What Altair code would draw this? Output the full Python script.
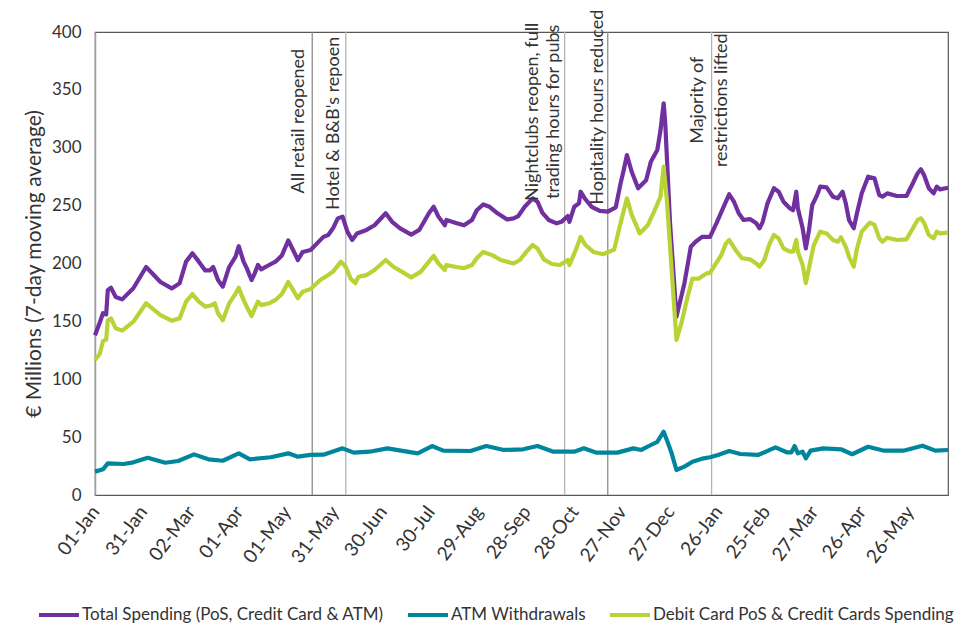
import altair as alt
import pandas as pd

# Daily 7-day moving averages, € millions; days counted from 1 Jan 2021
total_days = [0, 3, 5, 7, 8, 10, 13, 17, 24, 32, 41, 48, 53, 57, 61, 65, 69, 72, 74, 77, 80, 84, 88, 90,
              93, 95, 98, 100, 102, 104, 109, 113, 117, 121, 124, 127, 130, 135, 139, 143, 146, 149, 152,
              155, 158, 161, 164, 170, 175, 182, 186, 191, 198, 203, 209, 212, 215, 219, 220, 226, 231,
              236, 239, 243, 247, 252, 258, 262, 265, 269, 274, 277, 280, 284, 289, 292, 296, 297, 300,
              303, 304, 307, 311, 316, 321, 326, 329, 331, 333, 336, 340, 345, 348, 352, 354, 356, 357,
              360, 364, 369, 373, 376, 380, 385, 389, 394, 397, 400, 403, 406, 410, 414, 416, 418, 421,
              425, 428, 431, 435, 437, 439, 440, 443, 445, 447, 449, 452, 454, 458, 462, 465, 468, 470,
              472, 475, 477, 480, 484, 488, 491, 493, 496, 502, 508, 512, 515, 517, 519, 522, 525, 527,
              529, 534]
total_vals = [138, 149, 157, 156, 177, 179, 171, 169, 178.6, 197, 184, 178.5, 183, 201.6, 208.8, 201.6,
              194, 194, 197, 185.7, 180, 197, 206, 215, 201.6, 196, 185.7, 191.5, 198.7, 195, 198.7,
              201.6, 207, 220, 211.7, 203, 210, 211.7, 217.4, 223, 224.6, 230.4, 239, 240.5, 227.5,
              220.3, 226, 229, 233, 243.4, 236, 230.4, 225, 229, 243.4, 249, 240.5, 233, 237.6, 235,
              233, 237.6, 246, 251, 249, 243.4, 238, 239, 241, 249, 256.3, 253.4, 244, 237.6, 234.7,
              236, 241, 236, 249, 252, 262, 255.5, 249, 245.4, 244.8, 248.5, 269, 280.8, 293.7, 279.3,
              265, 272, 288, 298, 315, 338.4, 321, 234.7, 154, 183, 214.5, 218.8, 223, 223, 234.7,
              250.5, 259.8, 253.4, 243.4, 237.6, 238.4, 234.7, 230.4, 236, 252, 265, 262, 253.4, 247.7,
              246, 262, 247.7, 230.4, 213, 229, 250.5, 259, 266.4, 265.8, 257.7, 256.3, 262, 252,
              237.6, 230.4, 243.4, 260.6, 275, 273.6, 259, 257.7, 260.6, 258.3, 258.3, 269.3, 278,
              281.4, 276.5, 265, 260.6, 266.4, 264, 265.5]

atm_days = [0, 5, 8, 18, 24, 33, 44, 52, 62, 71, 80, 90, 97, 110, 121, 127, 135, 143, 155, 162, 172, 183,
            202, 211, 218, 235, 245, 256, 268, 277, 287, 300, 306, 314, 327, 337, 342, 348, 352, 356,
            358, 361, 364, 369, 374, 381, 385, 390, 397, 404, 415, 420, 426, 433, 436, 438, 440, 443,
            445, 448, 456, 467, 474, 484, 494, 506, 518, 526, 534]
atm_vals = [20.2, 22.2, 27.3, 26.8, 28.2, 32.2, 27.9, 29.4, 35.1, 30.8, 29.6, 36, 30.8, 32.6, 36, 33.1,
            34.6, 34.8, 40.3, 36.6, 37.4, 40.3, 36, 42.3, 38.3, 38, 42.3, 38.9, 39.5, 42.3, 37.4, 37.4,
            40.3, 36.6, 36.6, 40.3, 38.9, 43.2, 46, 54.7, 47.5, 36, 21.6, 24.5, 28.8, 31.7, 32.6, 34.6,
            38, 35.4, 34.6, 37.4, 41.2, 36.9, 36.9, 42.3, 36, 37.4, 31.7, 38.3, 40.3, 39.5, 35.2, 41.7,
            38.3, 38.3, 42.6, 38.3, 38.9]

card_days = [0, 3, 5, 7, 8, 10, 13, 17, 24, 32, 41, 48, 53, 57, 61, 65, 69, 73, 75, 77, 80, 84, 88, 90,
             93, 95, 98, 100, 102, 104, 109, 113, 117, 121, 124, 127, 130, 135, 141, 146, 149, 154, 157,
             160, 163, 165, 170, 175, 182, 187, 192, 198, 204, 209, 212, 215, 219, 220, 226, 231, 236,
             239, 243, 249, 254, 262, 266, 270, 274, 277, 281, 286, 291, 296, 297, 301, 304, 307, 312,
             318, 325, 329, 333, 336, 341, 346, 350, 354, 356, 358, 364, 367, 371, 374, 378, 383, 385,
             392, 395, 397, 401, 405, 410, 414, 416, 419, 422, 425, 428, 431, 435, 437, 439, 440, 443,
             445, 448, 450, 454, 458, 462, 465, 467, 470, 472, 475, 477, 480, 485, 488, 491, 493, 496,
             502, 508, 512, 515, 517, 519, 522, 525, 527, 529, 534]
card_vals = [116.6, 122, 133, 134, 151, 152.6, 144, 142, 149.7, 165.6, 155.5, 150.6, 152.6, 167, 173.6,
             167, 162.7, 164, 165.6, 157, 151, 165.6, 174, 179, 168.5, 162.7, 154.6, 161, 167, 164,
             165.6, 168.5, 173.6, 184, 177, 170, 175.6, 178, 185.7, 190, 193, 201.6, 197, 187, 183,
             188.6, 190, 194.4, 203, 197, 193, 188, 193, 201.6, 206.5, 200, 194.4, 198.7, 197, 196,
             198.7, 204.5, 210, 207, 203, 200, 203, 210, 216, 213, 203.6, 199.6, 198.7, 203, 198.7,
             211.7, 223, 216, 210, 208, 212, 234.7, 256.3, 242, 226, 233, 244.8, 257.7, 283.6, 254.9,
             134, 148, 171.3, 187, 187, 191.5, 192, 207, 217.4, 220.3, 211.7, 204.5, 203.6, 200,
             197.3, 203, 216, 224.6, 221.7, 213, 210.2, 210.2, 220.3, 210.2, 198.7, 183, 203, 216,
             227.5, 226, 220.3, 218.8, 222.6, 214.5, 205.9, 197.3, 213, 227.5, 235.3, 233.3, 221.7,
             218.8, 222.3, 220.3, 220.9, 230.4, 237.6, 239, 235.3, 224.6, 221.7, 227.5, 226, 226.6]

series_names = ["Total Spending (PoS, Credit Card & ATM)", "ATM Withdrawals",
                "Debit Card PoS & Credit Cards Spending"]
series_colors = ["#7030A0", "#00869C", "#B7D335"]

tick_dates = ["2021-01-01", "2021-01-31", "2021-03-02", "2021-04-01", "2021-05-01", "2021-05-31",
              "2021-06-30", "2021-07-30", "2021-08-29", "2021-09-28", "2021-10-28", "2021-11-27",
              "2021-12-27", "2022-01-26", "2022-02-25", "2022-03-27", "2022-04-26", "2022-05-26"]

# Reopening / restriction milestones
event_dates = ["2021-05-17", "2021-06-07", "2021-10-22", "2021-11-18", "2022-01-22"]
event_shades = ["#8c8c8c", "#b3b3b3", "#b3b3b3", "#8c8c8c", "#b3b3b3"]
# label lines: (event index, text, vertical centre in € m, sideways offset in px)
label_lines = [
    (0, "All retail reopened", 323, -8),
    (1, "Hotel & B&B's repoen", 321, -7),
    (2, "Nightclubs reopen, full", 331, -27),
    (2, "trading hours for pubs", 331, -6),
    (3, "Hopitality hours reduced", 335, -5),
    (4, "Majority of", 341, -9),
    (4, "restrictions lifted", 341, 15),
]

start = pd.Timestamp("2021-01-01")
frames = []
for name, days, vals in [(series_names[0], total_days, total_vals),
                         (series_names[1], atm_days, atm_vals),
                         (series_names[2], card_days, card_vals)]:
    frames.append(pd.DataFrame({
        "date": start + pd.to_timedelta(days, unit="D"),
        "value": vals,
        "series": name,
    }))
df = pd.concat(frames, ignore_index=True)

FONT = "Lato"
TXT = "#333333"

x_scale = alt.Scale(domain=[alt.DateTime(year=2021, month=1, date=1),
                            alt.DateTime(year=2022, month=6, date=19)])
y_scale = alt.Scale(domain=[0, 400])

tick_values = [alt.DateTime(year=int(d[:4]), month=int(d[5:7]), date=int(d[8:])) for d in tick_dates]

lines = alt.Chart(df).mark_line(strokeWidth=4.2, strokeJoin="round").encode(
    x=alt.X("date:T", scale=x_scale,
            axis=alt.Axis(values=tick_values, format="%d-%b", labelAngle=307, title=None,
                          ticks=False, domain=False, labelFontSize=19, labelFont=FONT,
                          labelColor=TXT, labelPadding=13, grid=False, labelOverlap=False,
                          labelBound=False)),
    y=alt.Y("value:Q", scale=y_scale,
            axis=alt.Axis(values=list(range(0, 401, 50)), title="€ Millions (7-day moving average)",
                          ticks=False, domainColor="#a0a0a0", domainWidth=1.5, grid=False,
                          labelFontSize=17, labelFont=FONT, labelColor=TXT, labelPadding=14,
                          titleFontSize=21, titleFont=FONT, titleFontWeight="normal",
                          titleColor=TXT, titlePadding=7)),
    color=alt.Color("series:N",
                    scale=alt.Scale(domain=series_names, range=series_colors),
                    legend=alt.Legend(title=None, orient="none", legendX=-58, legendY=561,
                                      direction="horizontal", symbolType="stroke",
                                      symbolStrokeWidth=4, symbolSize=1600, labelFontSize=17,
                                      labelFont=FONT, labelColor=TXT, labelLimit=500,
                                      labelOffset=1, columnPadding=16)),
    order=alt.Order("series_order:Q"),
).transform_calculate(
    series_order="indexof(%s, datum.series)" % str(series_names)
)

events_df = pd.DataFrame({"date": pd.to_datetime(event_dates), "shade": event_shades})
rules = alt.Chart(events_df).mark_rule(strokeWidth=1.3).encode(
    x=alt.X("date:T", scale=x_scale),
    color=alt.Color("shade:N", scale=None),
)

label_layers = []
for idx, text, ymid, off in label_lines:
    ldf = pd.DataFrame({"date": [pd.Timestamp(event_dates[idx])], "y": [ymid], "t": [text]})
    label_layers.append(
        alt.Chart(ldf).mark_text(angle=270, align="center", baseline="alphabetic", dy=off,
                                 fontSize=18, font=FONT, color=TXT).encode(
            x=alt.X("date:T", scale=x_scale),
            y=alt.Y("y:Q", scale=y_scale),
            text="t:N",
        )
    )

chart = alt.layer(rules, lines, *label_layers).properties(
    width=853, height=463,
    autosize=alt.AutoSizeParams(type="none"),
    padding={"left": 95, "top": 32, "right": 26, "bottom": 146},
    background="white",
).configure_view(stroke="#595959", strokeWidth=1.2)

chart.save("out.html", embed_options={"renderer": "svg", "actions": False})
